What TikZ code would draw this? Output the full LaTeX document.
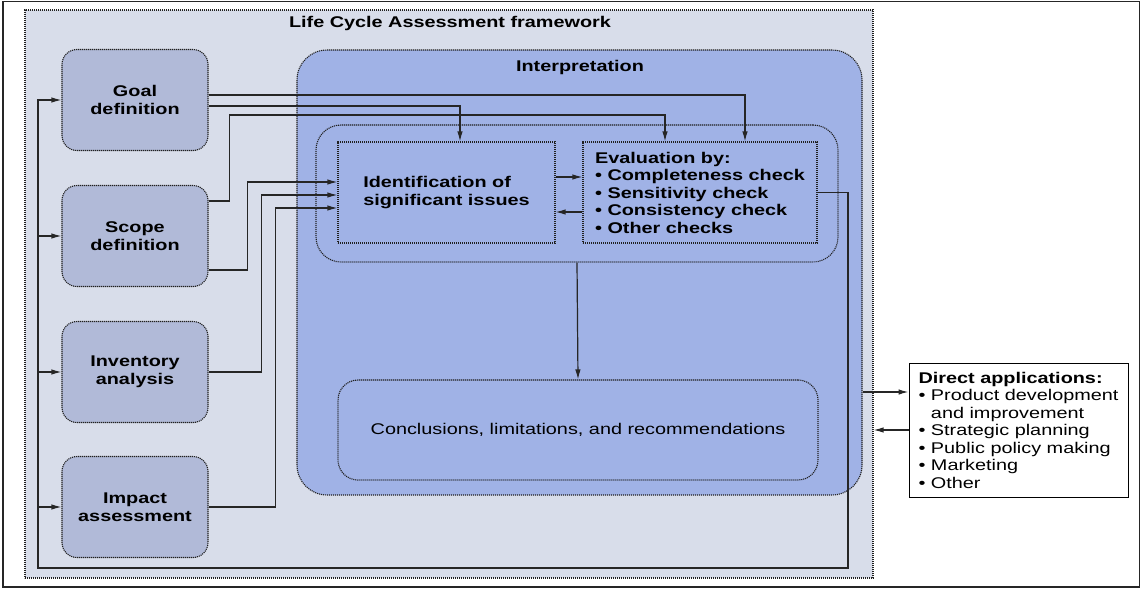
\documentclass[tikz,border=0pt]{standalone}
\usepackage{fontspec}
\setmainfont{Liberation Sans}[FakeStretch=1.28]
\usetikzlibrary{arrows.meta}
\definecolor{bgc}{HTML}{D8DDEA}
\definecolor{stagec}{HTML}{B1BAD8}
\definecolor{interc}{HTML}{A0B2E6}
\definecolor{linec}{HTML}{262626}
\definecolor{dotc}{HTML}{202020}
\newcommand\myfs{\fontsize{15.5}{17.5}\selectfont}
\begin{document}
\begin{tikzpicture}[x=1pt,y=-1pt,
  dotbox/.style={draw=dotc, line width=1.1pt, dash pattern=on 1.1pt off 0.9pt},
  stage/.style={dotbox, fill=stagec, rounded corners=15pt, minimum width=146pt,
    minimum height=101pt, align=center, font=\myfs\bfseries},
  arr/.style={draw=linec, line width=1.2pt, -{Latex[length=10pt,width=5.5pt]}},
  conn/.style={draw=linec, line width=1.2pt}]
\useasboundingbox (0,0) rectangle (1142,589);
\draw[line width=1.2pt, draw=linec] (3,1.5) rectangle (1139.5,587);

% framework
\node[dotbox, fill=bgc, minimum width=848pt, minimum height=568pt, inner sep=0pt] (frame) at (449,294) {};
\node[font=\myfs\bfseries] (ftitle) at (450,23) {Life Cycle Assessment framework};

% stages
\node[stage] (goal) at (135,100) {Goal\\definition};
\node[stage] (scope) at (135,236) {Scope\\definition};
\node[stage] (inv) at (135,372) {Inventory\\analysis};
\node[stage] (impact) at (135,507) {Impact\\assessment};

% interpretation
\node[dotbox, fill=interc, rounded corners=30pt, minimum width=565pt, minimum height=445pt, inner sep=0pt] (interp) at (579.5,272.5) {};
\node[font=\myfs\bfseries] (ititle) at (580,67) {Interpretation};
\node[dotbox, rounded corners=25pt, minimum width=522pt, minimum height=137pt, inner sep=0pt] (inner) at (577,193.5) {};
\node[dotbox, minimum width=217pt, minimum height=101pt, align=left, font=\myfs\bfseries] (ident) at (446.5,192.5) {Identification of\\significant issues};
\node[dotbox, minimum width=234pt, minimum height=101pt, align=left, font=\myfs\bfseries] (eval) at (700,192.5) {Evaluation by:\\\textbullet\ Completeness check\\\textbullet\ Sensitivity check\\\textbullet\ Consistency check\\\textbullet\ Other checks};
\node[dotbox, rounded corners=20pt, minimum width=480pt, minimum height=100pt, font=\myfs] (conc) at (578,430) {Conclusions, limitations, and recommendations};

% direct applications
\node[draw=black, line width=1pt, fill=white, minimum width=219pt, minimum height=134pt, align=left, font=\myfs] (apps) at (1018.5,430) {\textbf{Direct applications:}\\\textbullet\ Product development\\\phantom{\textbullet\ }and improvement\\\textbullet\ Strategic planning\\\textbullet\ Public policy making\\\textbullet\ Marketing\\\textbullet\ Other};

% connectors
\coordinate (loopR) at (848,568);
\coordinate (loopL) at (38,568);
\draw[arr] (eval.east) -| (loopR) -- (loopL) |- (goal.west);
\draw[arr] (loopL |- scope.west) -- (scope.west);
\draw[arr] (loopL |- inv.west) -- (inv.west);
\draw[arr] (loopL |- impact.west) -- (impact.west);

\draw[arr] ([yshift=5pt]goal.east) -| ([xshift=45pt]eval.north);
\draw[arr] ([yshift=-6pt]goal.east) -| ([xshift=13.5pt]ident.north);
\draw[arr] ([yshift=35pt]scope.east) -- ++(21,0) -- ++(0,-86) -| ([xshift=-35pt]eval.north);
\draw[arr] ([yshift=-34pt]scope.east) -- ++(39,0) |- ([yshift=10.5pt]ident.west);
\draw[arr] (inv.east) -- ++(53,0) |- ([yshift=-2.5pt]ident.west);
\draw[arr] (impact.east) -- ++(67,0) |- ([yshift=-15.5pt]ident.west);

\draw[arr] ([yshift=15.5pt]ident.east) -- ([yshift=15.5pt]eval.west);
\draw[arr] ([yshift=-19.5pt]eval.west) -- ([yshift=-19.5pt]ident.east);
\draw[arr] (inner.south) -- (conc.north);

\draw[arr] ([yshift=-119.5pt]interp.east) -- ([yshift=38pt]apps.west);
\draw[arr] (apps.west) -- (frame.east |- apps.west);
\end{tikzpicture}
\end{document}
